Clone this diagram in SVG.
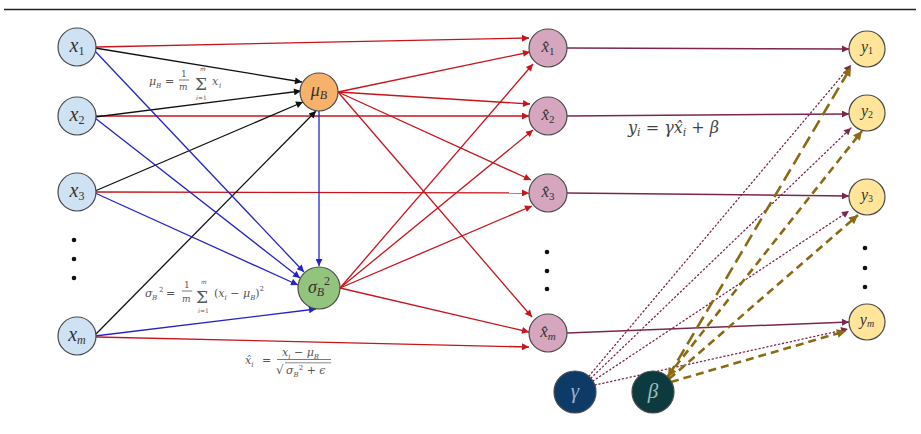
<svg xmlns="http://www.w3.org/2000/svg" width="921" height="434" viewBox="0 0 921 434">
  <style>
    .n circle { stroke: #4a4a4a; stroke-width: 1.2; }
    .lbl { font-family: 'Liberation Serif', 'Times New Roman', serif; font-style: italic; fill: #333; text-anchor: middle; }
    .eq { font-family: 'DejaVu Serif', serif; fill: #555; }
    .it { font-style: italic; }
    .red { stroke: #c8141c; stroke-width: 1.3; fill: none; marker-end: url(#ah-red); }
    .blue { stroke: #2424c8; stroke-width: 1.3; fill: none; marker-end: url(#ah-blue); }
    .blk { stroke: #111; stroke-width: 1.3; fill: none; marker-end: url(#ah-blk); }
    .pur { stroke: #7a2650; stroke-width: 1.5; fill: none; marker-end: url(#ah-pur); }
    .dot { stroke: #7a2650; stroke-width: 1.3; fill: none; stroke-dasharray: 1.2 2.8; stroke-linecap: round; marker-end: url(#ah-pur); }
    .gold { stroke: #8a6a12; stroke-width: 2.6; fill: none; stroke-dasharray: 8 5; marker-end: url(#ah-gold); }
    .gold-long { stroke: #8a6a12; stroke-width: 2.6; fill: none; stroke-dasharray: 13 6; marker-start: url(#ah-gold); marker-end: url(#ah-gold); }
  </style>
  <defs>
    <marker id="ah-red" viewBox="0 0 10 10" refX="10" refY="5" markerWidth="9" markerHeight="7" markerUnits="userSpaceOnUse" orient="auto"><path d="M0,0 L10,5 L0,10 z" fill="#c8141c"/></marker>
    <marker id="ah-blue" viewBox="0 0 10 10" refX="10" refY="5" markerWidth="9" markerHeight="7" markerUnits="userSpaceOnUse" orient="auto"><path d="M0,0 L10,5 L0,10 z" fill="#2424c8"/></marker>
    <marker id="ah-blk" viewBox="0 0 10 10" refX="10" refY="5" markerWidth="9" markerHeight="7" markerUnits="userSpaceOnUse" orient="auto"><path d="M0,0 L10,5 L0,10 z" fill="#111"/></marker>
    <marker id="ah-pur" viewBox="0 0 10 10" refX="10" refY="5" markerWidth="9" markerHeight="7" markerUnits="userSpaceOnUse" orient="auto"><path d="M0,0 L10,5 L0,10 z" fill="#7a2650"/></marker>
    <marker id="ah-gold" viewBox="0 0 10 10" refX="10" refY="5" markerWidth="11" markerHeight="9" markerUnits="userSpaceOnUse" orient="auto-start-reverse"><path d="M0,0 L10,5 L0,10 z" fill="#8a6a12"/></marker>
  </defs>

  <rect width="921" height="434" fill="#fff"/>
  <line x1="4" y1="9.5" x2="916" y2="9.5" stroke="#222" stroke-width="1.3"/>

  <!-- connectors -->
  <g id="edges">
    <!-- inputs straight to normalised values -->
    <line class="red" x1="96" y1="47" x2="529" y2="38"/>
    <line class="red" x1="96" y1="116" x2="529" y2="116"/>
    <line class="red" x1="96" y1="192" x2="529" y2="193"/>
    <line class="red" x1="96" y1="337" x2="529" y2="347"/>
    <!-- inputs to batch mean -->
    <line class="blk" x1="95" y1="48" x2="302" y2="82"/>
    <line class="blk" x1="95" y1="117" x2="301" y2="91"/>
    <line class="blk" x1="95" y1="191" x2="303" y2="102"/>
    <line class="blk" x1="95" y1="335" x2="316" y2="111"/>
    <!-- inputs to batch variance -->
    <line class="blue" x1="94" y1="50" x2="304" y2="272"/>
    <line class="blue" x1="95" y1="118" x2="300" y2="278"/>
    <line class="blue" x1="95" y1="193" x2="298" y2="285"/>
    <line class="blue" x1="95" y1="336" x2="316" y2="309"/>
    <line class="blue" x1="319" y1="111" x2="319" y2="266"/>
    <!-- mean to normalised values -->
    <line class="red" x1="338" y1="92" x2="530" y2="52"/>
    <line class="red" x1="338" y1="92" x2="530" y2="104"/>
    <line class="red" x1="338" y1="92" x2="531" y2="180"/>
    <line class="red" x1="338" y1="92" x2="532" y2="317"/>
    <!-- variance to normalised values -->
    <line class="red" x1="340" y1="288" x2="533" y2="64"/>
    <line class="red" x1="340" y1="288" x2="533" y2="130"/>
    <line class="red" x1="340" y1="288" x2="532" y2="206"/>
    <line class="red" x1="340" y1="288" x2="529" y2="332"/>
    <!-- normalised values to outputs -->
    <line class="pur" x1="567" y1="48" x2="849" y2="49"/>
    <line class="pur" x1="567" y1="116" x2="849" y2="114"/>
    <line class="pur" x1="567" y1="193" x2="849" y2="196"/>
    <line class="pur" x1="567" y1="333" x2="849" y2="322"/>
    <!-- scale gamma -->
    <line class="dot" x1="589" y1="376" x2="851" y2="65"/>
    <line class="dot" x1="591" y1="378" x2="851" y2="128"/>
    <line class="dot" x1="593" y1="381" x2="849" y2="211"/>
    <line class="dot" x1="595" y1="385" x2="848" y2="329"/>
    <!-- shift beta -->
    <line class="gold-long" x1="668" y1="377" x2="851" y2="67"/>
    <line class="gold" x1="667" y1="377" x2="862" y2="131"/>
    <line class="gold" x1="669" y1="379" x2="858" y2="215"/>
    <line class="gold" x1="671" y1="382" x2="846" y2="331"/>
  </g>

  <!-- input column -->
  <g id="x1" class="n"><circle cx="77" cy="47" r="19" fill="#cfe2f3"/><text class="lbl" x="77" y="52"><tspan font-size="20">x</tspan><tspan font-size="12" font-style="normal" dy="3">1</tspan></text></g>
  <g id="x2" class="n"><circle cx="77" cy="116" r="19" fill="#cfe2f3"/><text class="lbl" x="77" y="121"><tspan font-size="20">x</tspan><tspan font-size="12" font-style="normal" dy="3">2</tspan></text></g>
  <g id="x3" class="n"><circle cx="77" cy="192" r="19" fill="#cfe2f3"/><text class="lbl" x="77" y="197"><tspan font-size="20">x</tspan><tspan font-size="12" font-style="normal" dy="3">3</tspan></text></g>
  <g id="xm" class="n"><circle cx="77" cy="336" r="19" fill="#cfe2f3"/><text class="lbl" x="77" y="341"><tspan font-size="20">x</tspan><tspan font-size="12" dy="3">m</tspan></text></g>
  <g id="x-dots" fill="#111"><circle cx="74" cy="240" r="2.3"/><circle cx="74" cy="259" r="2.3"/><circle cx="74" cy="278" r="2.3"/></g>

  <!-- batch statistics -->
  <g id="mu" class="n"><circle cx="319" cy="92" r="19" fill="#f6b26b"/><text class="lbl" x="319" y="96"><tspan font-size="18">μ</tspan><tspan font-size="12" dy="3">B</tspan></text></g>
  <g id="sigma" class="n"><circle cx="319" cy="288" r="21" fill="#93c47d"/><text class="lbl" x="319" y="293"><tspan font-size="18">σ</tspan><tspan font-size="12" dy="3">B</tspan><tspan font-size="12" font-style="normal" dy="-11">2</tspan></text></g>

  <!-- normalised column -->
  <g id="xh1" class="n"><circle cx="548" cy="48" r="19" fill="#d5a6bd"/><text class="lbl" x="548" y="52"><tspan font-size="17">x̂</tspan><tspan font-size="11" font-style="normal" dy="3">1</tspan></text></g>
  <g id="xh2" class="n"><circle cx="548" cy="116" r="19" fill="#d5a6bd"/><text class="lbl" x="548" y="120"><tspan font-size="17">x̂</tspan><tspan font-size="11" font-style="normal" dy="3">2</tspan></text></g>
  <g id="xh3" class="n"><circle cx="548" cy="193" r="19" fill="#d5a6bd"/><text class="lbl" x="548" y="197"><tspan font-size="17">x̂</tspan><tspan font-size="11" font-style="normal" dy="3">3</tspan></text></g>
  <g id="xhm" class="n"><circle cx="548" cy="333" r="19" fill="#d5a6bd"/><text class="lbl" x="548" y="337"><tspan font-size="17">x̂</tspan><tspan font-size="11" dy="3">m</tspan></text></g>
  <g id="xh-dots" fill="#111"><circle cx="547" cy="252" r="2.3"/><circle cx="547" cy="271" r="2.3"/><circle cx="547" cy="289" r="2.3"/></g>

  <!-- output column -->
  <g id="y1" class="n"><circle cx="867" cy="49" r="18" fill="#ffe599"/><text class="lbl" x="867" y="52"><tspan font-size="16">y</tspan><tspan font-size="10" font-style="normal" dy="2">1</tspan></text></g>
  <g id="y2" class="n"><circle cx="867" cy="113" r="18" fill="#ffe599"/><text class="lbl" x="867" y="116"><tspan font-size="16">y</tspan><tspan font-size="10" font-style="normal" dy="2">2</tspan></text></g>
  <g id="y3" class="n"><circle cx="867" cy="197" r="18" fill="#ffe599"/><text class="lbl" x="867" y="200"><tspan font-size="16">y</tspan><tspan font-size="10" font-style="normal" dy="2">3</tspan></text></g>
  <g id="ym" class="n"><circle cx="867" cy="322" r="18" fill="#ffe599"/><text class="lbl" x="867" y="325"><tspan font-size="16">y</tspan><tspan font-size="10" dy="2">m</tspan></text></g>
  <g id="y-dots" fill="#111"><circle cx="865" cy="248" r="2.3"/><circle cx="865" cy="268" r="2.3"/><circle cx="865" cy="287" r="2.3"/></g>

  <!-- learned parameters -->
  <g id="gamma" class="n"><circle cx="575" cy="392" r="21" fill="#0d3a66"/><text class="lbl" x="575" y="398" font-size="21" style="fill:#9db4d2">γ</text></g>
  <g id="beta" class="n"><circle cx="653" cy="392" r="21" fill="#0c3a3e"/><text class="lbl" x="653" y="398" font-size="21" style="fill:#9dbcbf">β</text></g>

  <!-- mean formula -->
  <g id="eq-mean" class="eq">
    <text x="149" y="85" font-size="11" class="it">μ</text>
    <text x="156" y="88" font-size="7" class="it">B</text>
    <text x="165" y="85" font-size="11">=</text>
    <text x="181" y="77" font-size="9">1</text>
    <line x1="179" y1="80" x2="189" y2="80" stroke="#555" stroke-width="0.8"/>
    <text x="179" y="90" font-size="9" class="it">m</text>
    <text x="195" y="90" font-size="17">Σ</text>
    <text x="200" y="71" font-size="6" class="it">m</text>
    <text x="196" y="100" font-size="6"><tspan class="it">i</tspan>=1</text>
    <text x="212" y="85" font-size="11" class="it">x</text>
    <text x="219" y="88" font-size="7" class="it">i</text>
  </g>

  <!-- variance formula -->
  <g id="eq-var" class="eq">
    <text x="145" y="297" font-size="11" class="it">σ</text>
    <text x="152" y="300" font-size="7" class="it">B</text>
    <text x="159" y="292" font-size="7">2</text>
    <text x="166" y="297" font-size="11">=</text>
    <text x="184" y="288" font-size="9">1</text>
    <line x1="182" y1="291" x2="192" y2="291" stroke="#555" stroke-width="0.8"/>
    <text x="182" y="302" font-size="9" class="it">m</text>
    <text x="196" y="303" font-size="17">Σ</text>
    <text x="201" y="284" font-size="6" class="it">m</text>
    <text x="198" y="313" font-size="6"><tspan class="it">i</tspan>=1</text>
    <text x="214" y="297" font-size="11">(<tspan class="it">x</tspan><tspan font-size="7" class="it" dy="3">i</tspan><tspan dy="-3"> − </tspan><tspan class="it">μ</tspan><tspan font-size="7" class="it" dy="3">B</tspan><tspan dy="-3">)</tspan><tspan font-size="7" dy="-6">2</tspan></text>
  </g>

  <!-- normalisation formula -->
  <g id="eq-norm" class="eq">
    <text x="245" y="364" font-size="11" class="it">x̂<tspan font-size="7" dy="3">i</tspan></text>
    <text x="262" y="364" font-size="11">=</text>
    <text x="282" y="356" font-size="11"><tspan class="it">x</tspan><tspan font-size="7" class="it" dy="3">i</tspan><tspan dy="-3"> − </tspan><tspan class="it">μ</tspan><tspan font-size="7" class="it" dy="3">B</tspan></text>
    <line x1="277" y1="359.5" x2="331" y2="359.5" stroke="#555" stroke-width="0.8"/>
    <text x="276" y="374" font-size="12">√</text>
    <line x1="285" y1="362.8" x2="331" y2="362.8" stroke="#555" stroke-width="0.7"/>
    <text x="286" y="374" font-size="11"><tspan class="it">σ</tspan><tspan font-size="7" class="it" dy="3">B</tspan><tspan font-size="7" dy="-7">2</tspan><tspan dy="4"> + </tspan><tspan class="it">ϵ</tspan></text>
  </g>

  <!-- affine output formula -->
  <g id="eq-out" class="eq" style="fill:#444">
    <text x="628" y="133" font-size="16"><tspan class="it">y</tspan><tspan font-size="11" class="it" dy="3">i</tspan><tspan dy="-3"> = </tspan><tspan class="it">γx̂</tspan><tspan font-size="11" class="it" dy="3">i</tspan><tspan dy="-3"> + </tspan><tspan class="it">β</tspan></text>
  </g>
</svg>
